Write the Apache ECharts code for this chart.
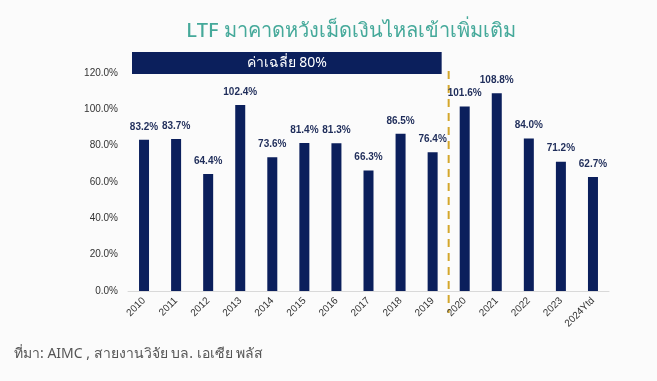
<!DOCTYPE html>
<html>
<head>
<meta charset="utf-8">
<script src="https://cdn.jsdelivr.net/npm/echarts@6/dist/echarts.min.js"></script>
<style>
html,body{margin:0;padding:0;background:#fbfbfb;}
#c{width:657px;height:381px;}
</style>
</head>
<body>
<div id="c"></div>
<script>
const categories = ['2010','2011','2012','2013','2014','2015','2016','2017','2018','2019','2020','2021','2022','2023','2024Ytd'];
const values = [83.2, 83.7, 64.4, 102.4, 73.6, 81.4, 81.3, 66.3, 86.5, 76.4, 101.6, 108.8, 84.0, 71.2, 62.7];
const yTicks = [0, 20, 40, 60, 80, 100, 120];
const titleText = 'LTF มาคาดหวังเม็ดเงินไหลเข้าเพิ่มเติม';
const bannerText = 'ค่าเฉลี่ย 80%';
const sourceText = 'ที่มา: AIMC , สายงานวิจัย บล. เอเซีย พลัส';
const splitAfter = '2019';

const chart = echarts.init(document.getElementById('c'), null, {renderer:'canvas'});
const NAVY = '#0b1f5c';
chart.setOption({
  backgroundColor: '#fbfbfb',
  animation: false,
  title: {
    text: titleText,
    left: 346, top: 16, textAlign: 'center',
    textStyle: {color: '#45a99a', fontSize: 20, fontWeight: 500, fontFamily: 'Noto Sans, sans-serif'}
  },
  grid: {left: 128, right: 48, top: 73, bottom: 90},
  xAxis: {
    type: 'category', data: categories,
    axisLine: {lineStyle: {color: '#d9d9d9'}},
    axisTick: {show: false},
    axisLabel: {rotate: 45, fontSize: 10, color: '#333', margin: 8, fontFamily: 'Liberation Sans, sans-serif'}
  },
  yAxis: {
    type: 'value', min: 0, max: 120, interval: 20,
    splitLine: {show: false},
    axisLine: {show: false},
    axisLabel: {fontSize: 10, color: '#333', margin: 10, fontFamily: 'Liberation Sans, sans-serif',
      formatter: v => yTicks.includes(v) ? v.toFixed(1) + '%' : ''}
  },
  series: [{
    type: 'bar', data: values, barWidth: 10,
    itemStyle: {color: NAVY},
    label: {show: true, position: 'top', distance: 8, color: '#1f2d5a', fontSize: 10, fontWeight: 'bold',
      fontFamily: 'Liberation Sans, sans-serif', formatter: p => p.value.toFixed(1) + '%'}
  }]
});

const i = categories.indexOf(splitAfter);
const x1 = chart.convertToPixel({xAxisIndex:0}, categories[i]);
const x2 = chart.convertToPixel({xAxisIndex:0}, categories[i+1]);
const xm = (x1 + x2) / 2;
chart.setOption({
  graphic: [
    {type:'rect', shape:{x:132, y:52, width: xm - 7 - 132, height:22}, style:{fill: NAVY}},
    {type:'text', x:(132 + xm - 7)/2, y:63, style:{text: bannerText, fill:'#fff', fontSize:14,
      fontFamily:'Noto Sans, sans-serif', textAlign:'center', textVerticalAlign:'middle'}},
    {type:'line', shape:{x1:xm, y1:71, x2:xm, y2:313},
      style:{stroke:'#d4a72c', lineWidth:2, lineDash:[8,6]}},
    {type:'text', x:14, y:347, style:{text: sourceText, fill:'#555', fontSize:14,
      fontFamily:'Noto Sans, sans-serif'}}
  ]
});
</script>
</body>
</html>
